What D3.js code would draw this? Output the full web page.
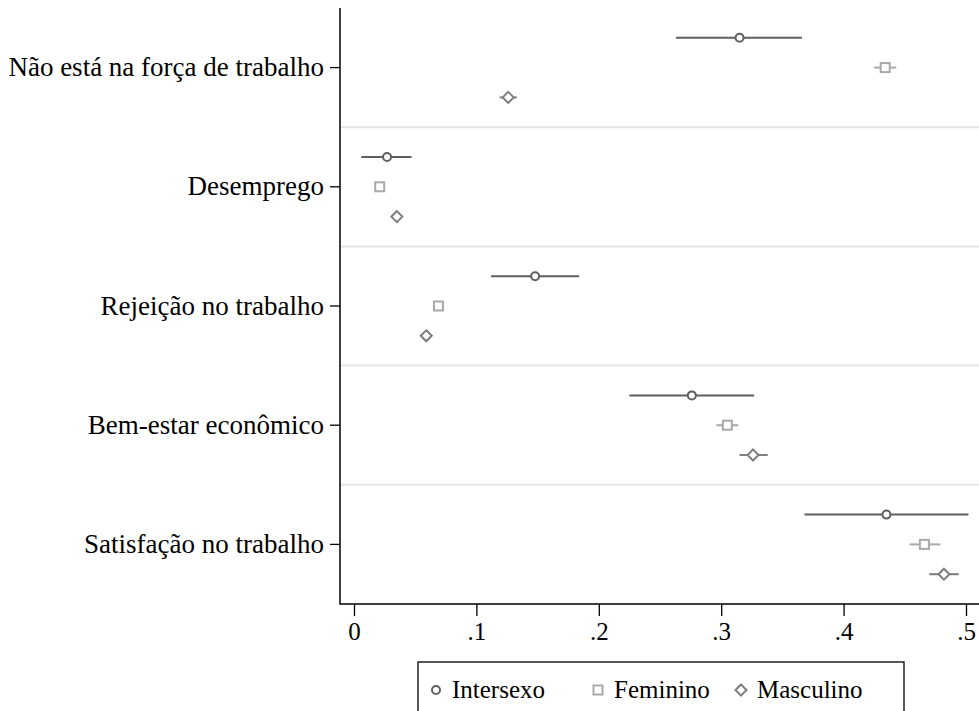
<!DOCTYPE html>
<html>
<head>
<meta charset="utf-8">
<script src="https://cdn.jsdelivr.net/npm/d3@7"></script>
<style>
  body { margin: 0; background: #fff; }
  svg text { font-family: "Liberation Serif", "DejaVu Serif", serif !important; }
</style>
</head>
<body>
<svg id="chart" width="979" height="711"></svg>
<script>
// categorias (de cima para baixo)
const categories = [
  "Não está na força de trabalho",
  "Desemprego",
  "Rejeição no trabalho",
  "Bem-estar econômico",
  "Satisfação no trabalho"
];
const groups = ["Intersexo", "Feminino", "Masculino"];

// estimativa pontual por grupo (mesma ordem das categorias)
const intersexo = [0.315, 0.027, 0.148, 0.276, 0.435];
const feminino  = [0.434, 0.021, 0.069, 0.305, 0.466];
const masculino = [0.126, 0.035, 0.059, 0.326, 0.482];

// intervalos de confiança [inferior, superior]
const intersexoCI = [[0.263, 0.366], [0.006, 0.047], [0.112, 0.184], [0.225, 0.327], [0.368, 0.502]];
const femininoCI  = [[0.425, 0.443], [0.019, 0.024], [0.067, 0.071], [0.296, 0.314], [0.454, 0.479]];
const masculinoCI = [[0.119, 0.133], [0.031, 0.038], [0.056, 0.063], [0.315, 0.338], [0.470, 0.494]];

const xTicks = [0, 0.1, 0.2, 0.3, 0.4, 0.5];

const series = [
  { name: groups[0], values: intersexo, ci: intersexoCI, color: "#5f5f5f", shape: "circle" },
  { name: groups[1], values: feminino,  ci: femininoCI,  color: "#a9a9a9", shape: "square" },
  { name: groups[2], values: masculino, ci: masculinoCI, color: "#7d7d7d", shape: "diamond" }
];

const svg = d3.select("#chart");
const plotLeft = 340, plotRight = 979, plotTop = 8, plotBottom = 604;

const x = d3.scaleLinear().domain([0, 0.5]).range([354, 966]);
const y = d3.scaleBand().domain(categories).range([plotTop, plotBottom]);

// separadores entre categorias
svg.append("g").selectAll("line")
  .data(categories.slice(1))
  .join("line")
  .attr("x1", plotLeft + 1).attr("x2", plotRight)
  .attr("y1", d => y(d)).attr("y2", d => y(d))
  .attr("stroke", "#e6e6e6").attr("stroke-width", 2);

// eixos
const xAxis = svg.append("g")
  .attr("transform", `translate(0,${plotBottom})`)
  .call(d3.axisBottom(x).tickValues(xTicks).tickSize(12).tickPadding(6)
    .tickFormat(d => d === 0 ? "0" : d3.format(".1f")(d).replace(/^0/, "")));
xAxis.select(".domain").remove();
xAxis.selectAll("line").attr("stroke", "#000").attr("stroke-width", 1.3);
xAxis.selectAll("text").attr("font-size", 25).attr("fill", "#000");

const yAxis = svg.append("g")
  .attr("transform", `translate(${plotLeft},0)`)
  .call(d3.axisLeft(y).tickSize(10).tickPadding(6));
yAxis.select(".domain").remove();
yAxis.selectAll("line").attr("stroke", "#000").attr("stroke-width", 1.3);
yAxis.selectAll("text").attr("font-size", 27).attr("fill", "#000");

svg.append("path")
  .attr("d", `M${plotLeft},${plotTop}V${plotBottom}H${plotRight}`)
  .attr("fill", "none").attr("stroke", "#000").attr("stroke-width", 1.5);

function drawMarker(g, shape, color) {
  if (shape === "circle") {
    g.append("circle").attr("r", 4).attr("fill", "#fff").attr("stroke", color).attr("stroke-width", 2);
  } else if (shape === "square") {
    g.append("rect").attr("x", -4.5).attr("y", -4.5).attr("width", 9).attr("height", 9)
      .attr("fill", "#fff").attr("stroke", color).attr("stroke-width", 2);
  } else {
    g.append("path").attr("d", "M0,-5.5L5.5,0L0,5.5L-5.5,0Z")
      .attr("fill", "#fff").attr("stroke", color).attr("stroke-width", 2);
  }
}

series.forEach((s, si) => {
  const off = y.bandwidth() * (si + 1) / 4;
  const g = svg.append("g");
  categories.forEach((c, i) => {
    const cy = y(c) + off;
    g.append("line")
      .attr("x1", x(s.ci[i][0])).attr("x2", x(s.ci[i][1]))
      .attr("y1", cy).attr("y2", cy)
      .attr("stroke", s.color).attr("stroke-width", 2);
    const m = g.append("g").attr("transform", `translate(${x(s.values[i])},${cy})`);
    drawMarker(m, s.shape, s.color);
  });
});

// legenda
const legend = svg.append("g");
legend.append("rect")
  .attr("x", 418).attr("y", 662).attr("width", 486).attr("height", 60)
  .attr("fill", "#fff").attr("stroke", "#000").attr("stroke-width", 1.3);
const legX = [436, 598, 741];
series.forEach((s, i) => {
  const m = legend.append("g").attr("transform", `translate(${legX[i]},690)`);
  drawMarker(m, s.shape, s.color);
  legend.append("text")
    .attr("x", legX[i] + 16).attr("y", 698)
    .attr("font-size", 25).attr("fill", "#000")
    .text(s.name);
});
</script>
</body>
</html>
